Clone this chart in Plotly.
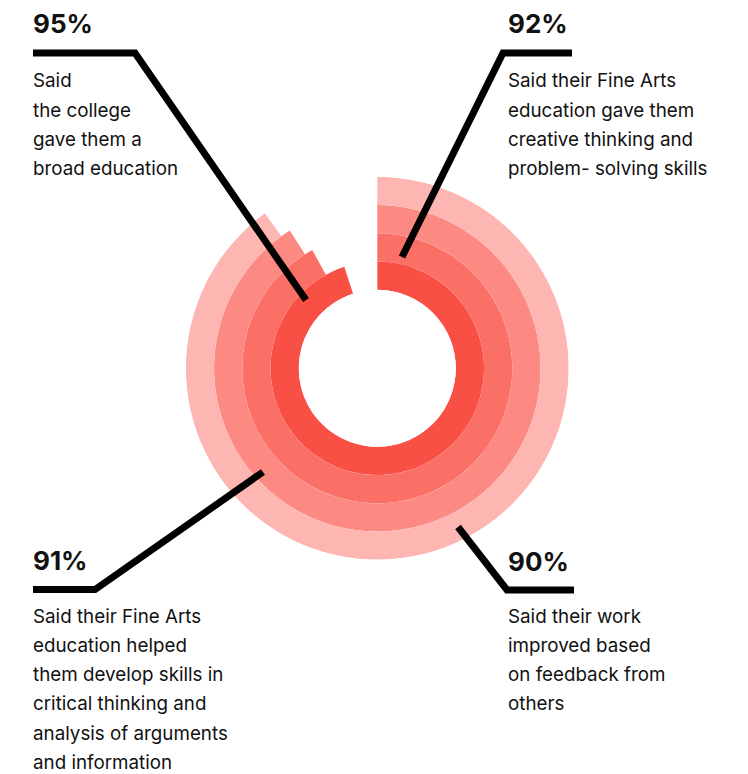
import plotly.graph_objects as go

# ---- data ----
percents = [95, 92, 91, 90]          # inner ring -> outer ring
ring_colors = ["#F95046", "#FB7066", "#FC8A83", "#FDB6B1"]
headers = ["95%", "92%", "91%", "90%"]
descriptions = [
    ["Said", "the college", "gave them a", "broad education"],
    ["Said their Fine Arts", "education gave them", "creative thinking and", "problem- solving skills"],
    ["Said their Fine Arts", "education helped", "them develop skills in", "critical thinking and",
     "analysis of arguments", "and information"],
    ["Said their work", "improved based", "on feedback from", "others"],
]

# page body margin in the browser is 8px; the figure fills the rest of the window
OFF = 8
W, H = 748 - OFF, 774 - OFF
def X(px): return (px - OFF) / W
def Y(py): return 1 - (py - OFF) / H

# ---- layout geometry (window pixels) ----
cx, cy, R, hole_r = 377.3, 368.3, 191.5, 78.5
header_pos = [(31, 24), (506, 24), (31, 560), (506, 561)]
text_pos = [(31, 81), (506, 81), (31, 616), (506, 616)]
line_step = 29.3
leaders = [
    [(33, 53), (135, 53), (306, 300)],
    [(572, 53), (503, 53), (402, 257)],
    [(33, 589.5), (95, 589.5), (263, 472)],
    [(574, 590), (507, 590), (458, 527)],
]

fig = go.Figure()
fig.add_trace(go.Barpolar(
    r=[1] * len(percents),
    base=list(range(len(percents))),
    theta=[p * 3.6 / 2 for p in percents],
    width=[p * 3.6 for p in percents],
    marker=dict(color=ring_colors, line=dict(width=0)),
    hoverinfo="skip",
))

annotations = []
for (hx, hy), h in zip(header_pos, headers):
    annotations.append(dict(x=X(hx), y=Y(hy), xref="paper", yref="paper", text=h,
                            showarrow=False, xanchor="left", yanchor="middle",
                            font=dict(family="Inter", size=26, color="#111111", weight=700)))
for (tx, ty), lines in zip(text_pos, descriptions):
    for i, ln in enumerate(lines):
        annotations.append(dict(x=X(tx), y=Y(ty + i * line_step), xref="paper", yref="paper",
                                text=ln, showarrow=False, xanchor="left", yanchor="middle",
                                font=dict(family="Inter", size=18.8, color="#111111")))

shapes = []
for pts in leaders:
    path = "M " + " L ".join(f"{X(px):.5f},{Y(py):.5f}" for px, py in pts)
    shapes.append(dict(type="path", xref="paper", yref="paper", path=path,
                       line=dict(color="#000000", width=7), layer="above"))

fig.update_layout(
    width=W, height=H,
    margin=dict(l=0, r=0, t=0, b=0),
    paper_bgcolor="white", plot_bgcolor="white",
    showlegend=False,
    polar=dict(
        domain=dict(x=[X(cx - R), X(cx + R)], y=[Y(cy + R), Y(cy - R)]),
        hole=hole_r / R,
        bgcolor="white",
        radialaxis=dict(range=[0, len(percents)], visible=False, showgrid=False),
        angularaxis=dict(rotation=90, direction="clockwise", visible=False, showgrid=False),
    ),
    annotations=annotations,
    shapes=shapes,
)

fig.write_html("out.html")
